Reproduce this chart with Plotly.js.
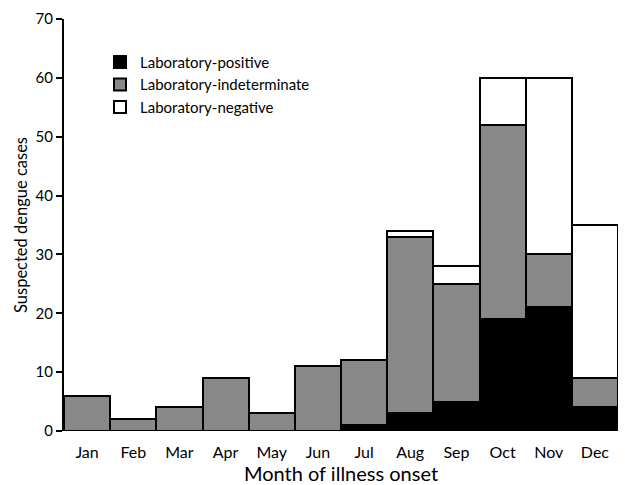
<!DOCTYPE html>
<html>
<head>
<meta charset="utf-8">
<script src="https://cdn.plot.ly/plotly-3.0.1.min.js"></script>
<style>html,body{margin:0;padding:0;background:#fff;}#chart{width:625px;height:485px;}</style>
</head>
<body>
<div id="chart"></div>
<script>
const months = ["Jan","Feb","Mar","Apr","May","Jun","Jul","Aug","Sep","Oct","Nov","Dec"];
const positive = [null,null,null,null,null,null,1,3,5,19,21,4];
const indeterminate = [6,2,4,9,3,11,11,30,20,33,9,5];
const negative = [null,null,null,null,null,null,null,1,3,8,30,26];
const yTicks = [0,10,20,30,40,50,60,70];

const font = "Lato, 'Open Sans', sans-serif";
const line = {color:"#000", width:2};
const traces = [
  {type:"bar", name:"Laboratory-positive", x:months, y:positive, marker:{color:"#000000", line:line}},
  {type:"bar", name:"Laboratory-indeterminate", x:months, y:indeterminate, marker:{color:"#888888", line:line}},
  {type:"bar", name:"Laboratory-negative", x:months, y:negative, marker:{color:"#ffffff", line:line}}
];
const layout = {
  width:625, height:485,
  margin:{l:64, r:7, t:19, b:54},
  barmode:"stack", bargap:0,
  paper_bgcolor:"#fff", plot_bgcolor:"#fff",
  font:{family:font, color:"#000", size:15},
  showlegend:true,
  legend:{x:0.065, y:0.935, xanchor:"left", yanchor:"top", traceorder:"normal",
          font:{size:15, family:font}, bgcolor:"rgba(0,0,0,0)", itemwidth:30, tracegroupgap:0},
  xaxis:{showline:false, ticks:"outside", ticklen:7, tickcolor:"rgba(0,0,0,0)", showgrid:false, zeroline:false,
         tickfont:{size:16}, title:{text:"Month of illness onset", font:{size:20}, standoff:8}},
  yaxis:{range:[0,70], tickvals:yTicks, showline:true, linecolor:"#000", linewidth:2,
         ticks:"outside", ticklen:6, tickwidth:2, tickcolor:"#000", showgrid:false, zeroline:false,
         tickfont:{size:15}, title:{text:"Suspected dengue cases", font:{size:16.5}, standoff:4}}
};
Plotly.newPlot("chart", traces, layout, {displayModeBar:false, staticPlot:true});
</script>
</body>
</html>
